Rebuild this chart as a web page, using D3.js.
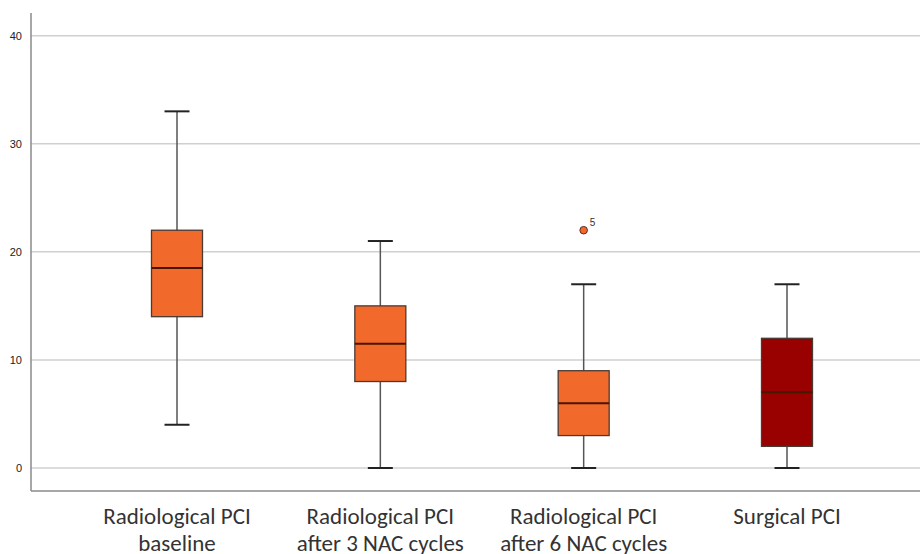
<!DOCTYPE html>
<html>
<head>
<meta charset="utf-8">
<script src="https://cdn.jsdelivr.net/npm/d3@7"></script>
<style>
  body { margin: 0; background: #fff; }
  svg { display: block; }
</style>
</head>
<body>
<div id="chart"></div>
<script>
// categories and box statistics
var categories = [
  ["Radiological PCI", "baseline"],
  ["Radiological PCI", "after 3 NAC cycles"],
  ["Radiological PCI", "after 6 NAC cycles"],
  ["Surgical PCI"]
];
var whiskerLow  = [4, 0, 0, 0];
var q1          = [14, 8, 3, 2];
var median      = [18.5, 11.5, 6, 7];
var q3          = [22, 15, 9, 12];
var whiskerHigh = [33, 21, 17, 17];
var outliers    = [[], [], [{v: 22, id: "5"}], []];
var boxColors   = ["#f26a2b", "#f26a2b", "#f26a2b", "#990000"];
var yTicks      = [0, 10, 20, 30, 40];

var width = 920, height = 554;
var mLeft = 31, mRight = 920, mTop = 13, mBottom = 491;

var svg = d3.select("#chart").append("svg")
  .attr("width", width)
  .attr("height", height);

var y = d3.scaleLinear().domain([-2.13, 42.1]).range([mBottom, mTop]);
var x = d3.scalePoint()
  .domain(d3.range(categories.length))
  .range([177, 787]);

// grid lines
svg.selectAll(".grid")
  .data(yTicks)
  .enter().append("line")
  .attr("x1", mLeft).attr("x2", mRight)
  .attr("y1", function(d) { return y(d); })
  .attr("y2", function(d) { return y(d); })
  .style("stroke", "#d0d0d0")
  .style("stroke-width", 1.5);

// y axis
var yAxis = svg.append("g")
  .attr("transform", "translate(" + mLeft + ",0)")
  .call(d3.axisLeft(y).tickValues(yTicks).tickSize(0).tickPadding(9));
yAxis.select(".domain").remove();
yAxis.selectAll("text")
  .style("font-family", "Arial, 'Liberation Sans', sans-serif")
  .style("font-size", "11px")
  .style("fill", "#222");

// axis lines
svg.append("line")
  .attr("x1", mLeft).attr("x2", mLeft).attr("y1", mTop).attr("y2", mBottom)
  .style("stroke", "#8a8a8a").style("stroke-width", 1.5);
svg.append("line")
  .attr("x1", mLeft).attr("x2", mRight).attr("y1", mBottom).attr("y2", mBottom)
  .style("stroke", "#8a8a8a").style("stroke-width", 1.5);

var boxW = 51, capW = 25;
var idx = d3.range(categories.length);

var g = svg.selectAll(".box")
  .data(idx)
  .enter().append("g")
  .attr("class", "box");

// whiskers
g.append("line")
  .attr("x1", function(i) { return x(i); })
  .attr("x2", function(i) { return x(i); })
  .attr("y1", function(i) { return y(whiskerLow[i]); })
  .attr("y2", function(i) { return y(whiskerHigh[i]); })
  .style("stroke", "#555").style("stroke-width", 1.5);

// caps
[whiskerLow, whiskerHigh].forEach(function(arr) {
  g.append("line")
    .attr("x1", function(i) { return x(i) - capW / 2; })
    .attr("x2", function(i) { return x(i) + capW / 2; })
    .attr("y1", function(i) { return y(arr[i]); })
    .attr("y2", function(i) { return y(arr[i]); })
    .style("stroke", "#222").style("stroke-width", 2);
});

// boxes
g.append("rect")
  .attr("x", function(i) { return x(i) - boxW / 2; })
  .attr("width", boxW)
  .attr("y", function(i) { return y(q3[i]); })
  .attr("height", function(i) { return y(q1[i]) - y(q3[i]); })
  .style("fill", function(i) { return boxColors[i]; })
  .style("stroke", "#4a3a34")
  .style("stroke-width", 1.3);

// medians
g.append("line")
  .attr("x1", function(i) { return x(i) - boxW / 2; })
  .attr("x2", function(i) { return x(i) + boxW / 2; })
  .attr("y1", function(i) { return y(median[i]); })
  .attr("y2", function(i) { return y(median[i]); })
  .style("stroke", "#4a1600").style("stroke-width", 2);

// outliers
idx.forEach(function(i) {
  outliers[i].forEach(function(o) {
    svg.append("circle")
      .attr("cx", x(i)).attr("cy", y(o.v)).attr("r", 3.8)
      .style("fill", boxColors[i]).style("stroke", "#5a3020").style("stroke-width", 1);
    svg.append("text")
      .attr("x", x(i) + 6).attr("y", y(o.v) - 4)
      .text(o.id)
      .style("font-family", "Arial, 'Liberation Sans', sans-serif")
      .style("font-size", "10px")
      .style("fill", "#333");
  });
});

// category labels
var lab = svg.selectAll(".cat")
  .data(idx)
  .enter().append("text")
  .attr("class", "cat")
  .attr("text-anchor", "middle")
  .style("font-family", "Carlito, Lato, 'Open Sans', sans-serif")
  .style("font-size", "23px")
  .style("fill", "#333");
lab.selectAll("tspan")
  .data(function(i) { return categories[i].map(function(t) { return {i: i, t: t}; }); })
  .enter().append("tspan")
  .attr("x", function(d) { return x(d.i); })
  .attr("y", function(d, k) { return 524 + k * 27; })
  .text(function(d) { return d.t; });
</script>
</body>
</html>
